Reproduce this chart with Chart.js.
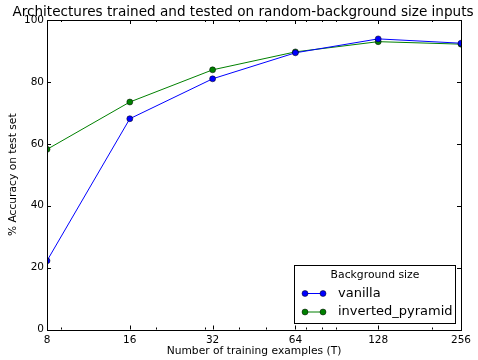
<!DOCTYPE html>
<html>
<head>
<meta charset="utf-8">
<script src="https://cdn.jsdelivr.net/npm/chart.js@4.4.1/dist/chart.umd.min.js"></script>
<style>
  html, body { margin: 0; padding: 0; background: #fff; }
  #wrap { width: 478px; height: 360px; }
</style>
</head>
<body>
<div id="wrap"><canvas id="chart-area"></canvas></div>
<script>
// число обучающих примеров (ось X, логарифм по основанию 2)
var sizes = [8, 16, 32, 64, 128, 256];
// точность на тестовой выборке, %
var vanilla = [22.2, 68.1, 81.0, 89.4, 93.9, 92.5];
var invertedPyramid = [58.2, 73.5, 83.9, 89.7, 93.0, 92.2];
// деления оси Y и мелкие деления оси X
var yTicks = [0, 20, 40, 60, 80, 100];
var xMinorTicks = [9, 20, 30, 40, 50, 70, 80, 90, 200];

var FONT = 'DejaVu Sans';

function toPoints(values) {
    return sizes.map(function (t, i) { return { x: t, y: values[i] }; });
}

// рамка осей и засечки внутрь, как в matplotlib
var frameTicks = {
    id: 'frameTicks',
    afterDatasetsDraw: function (chart) {
        var ctx = chart.ctx, a = chart.chartArea;
        var xs = chart.scales.x, ys = chart.scales.y;
        ctx.save();
        ctx.strokeStyle = '#000';
        ctx.lineWidth = 1;
        ctx.beginPath();
        sizes.forEach(function (v) {
            var px = Math.round(xs.getPixelForValue(v)) + 0.5;
            ctx.moveTo(px, a.bottom); ctx.lineTo(px, a.bottom - 4);
            ctx.moveTo(px, a.top); ctx.lineTo(px, a.top + 4);
        });
        xMinorTicks.forEach(function (v) {
            var px = Math.round(xs.getPixelForValue(v)) + 0.5;
            ctx.moveTo(px, a.bottom); ctx.lineTo(px, a.bottom - 2);
            ctx.moveTo(px, a.top); ctx.lineTo(px, a.top + 2);
        });
        yTicks.forEach(function (v) {
            var py = Math.round(ys.getPixelForValue(v)) + 0.5;
            ctx.moveTo(a.left, py); ctx.lineTo(a.left + 4, py);
            ctx.moveTo(a.right, py); ctx.lineTo(a.right - 4, py);
        });
        ctx.stroke();
        ctx.strokeRect(Math.round(a.left) + 0.5, Math.round(a.top) + 0.5,
            Math.round(a.right - a.left), Math.round(a.bottom - a.top));
        ctx.restore();
    }
};

// заголовок графика
var plotTitle = {
    id: 'plotTitle',
    afterDraw: function (chart) {
        var ctx = chart.ctx;
        ctx.save();
        ctx.fillStyle = '#000';
        ctx.font = '13.6px "' + FONT + '"';
        ctx.textAlign = 'center';
        ctx.textBaseline = 'alphabetic';
        ctx.fillText('Architectures trained and tested on random-background size inputs', 243, 15.5);
        ctx.restore();
    }
};

// легенда в правом нижнем углу
var boxLegend = {
    id: 'boxLegend',
    afterDraw: function (chart) {
        var ctx = chart.ctx;
        var x0 = 294.5, y0 = 265.5, w = 161, h = 58;
        ctx.save();
        ctx.fillStyle = '#fff';
        ctx.fillRect(x0, y0, w, h);
        ctx.strokeStyle = '#000';
        ctx.lineWidth = 1;
        ctx.strokeRect(x0, y0, w, h);
        ctx.fillStyle = '#000';
        ctx.font = '10.8px "' + FONT + '"';
        ctx.textAlign = 'center';
        ctx.textBaseline = 'middle';
        ctx.fillText('Background size', 375, 275.5);
        chart.data.datasets.forEach(function (ds, i) {
            var y = 293.5 + i * 18.5;
            ctx.strokeStyle = ds.borderColor;
            ctx.lineWidth = 1;
            ctx.beginPath();
            ctx.moveTo(305, y); ctx.lineTo(323, y);
            ctx.stroke();
            [305, 323].forEach(function (mx) {
                ctx.beginPath();
                ctx.arc(mx, y, 3, 0, Math.PI * 2);
                ctx.fillStyle = ds.pointBackgroundColor;
                ctx.fill();
                ctx.lineWidth = 0.5;
                ctx.strokeStyle = '#000';
                ctx.stroke();
            });
            ctx.fillStyle = '#000';
            ctx.font = '13px "' + FONT + '"';
            ctx.textAlign = 'left';
            ctx.fillText(ds.label, 338, y);
        });
        ctx.restore();
    }
};

var config = {
    type: 'line',
    data: {
        datasets: [{
            label: 'vanilla',
            data: toPoints(vanilla),
            borderColor: '#0000ff',
            pointBackgroundColor: '#0000ff',
            pointBorderColor: '#000',
            pointBorderWidth: 0.5,
            pointRadius: 3,
            borderWidth: 1,
            tension: 0,
            clip: 0
        }, {
            label: 'inverted_pyramid',
            data: toPoints(invertedPyramid),
            borderColor: '#008000',
            pointBackgroundColor: '#008000',
            pointBorderColor: '#000',
            pointBorderWidth: 0.5,
            pointRadius: 3,
            borderWidth: 1,
            tension: 0,
            clip: 0
        }]
    },
    options: {
        responsive: true,
        maintainAspectRatio: false,
        animation: false,
        layout: { padding: { top: 20, right: 17, left: 0, bottom: 0 } },
        plugins: {
            legend: { display: false },
            title: { display: false },
            tooltip: { enabled: false }
        },
        scales: {
            x: {
                type: 'logarithmic',
                min: 8,
                max: 256,
                afterBuildTicks: function (scale) {
                    scale.ticks = sizes.map(function (v) { return { value: v }; });
                },
                afterFit: function (scale) { scale.height = 30.5; },
                grid: { display: false, drawTicks: false },
                border: { display: false },
                ticks: {
                    autoSkip: false,
                    maxRotation: 0,
                    padding: 4,
                    color: '#000',
                    font: { family: FONT, size: 10.5 },
                    callback: function (v) { return String(v); }
                },
                title: {
                    display: true,
                    text: 'Number of training examples (T)',
                    color: '#000',
                    font: { family: FONT, size: 10.7 },
                    padding: { top: 0, bottom: 2 }
                }
            },
            y: {
                min: 0,
                max: 100,
                afterFit: function (scale) { scale.width = 47; },
                grid: { display: false, drawTicks: false },
                border: { display: false },
                ticks: {
                    stepSize: 20,
                    padding: 3,
                    color: '#000',
                    font: { family: FONT, size: 10.5 }
                },
                title: {
                    display: true,
                    text: '% Accuracy on test set',
                    color: '#000',
                    font: { family: FONT, size: 10.7 },
                    padding: { top: 7, bottom: 0 }
                }
            }
        }
    },
    plugins: [frameTicks, plotTitle, boxLegend]
};

var ctx = document.getElementById('chart-area').getContext('2d');
window.accuracyChart = new Chart(ctx, config);
</script>
</body>
</html>
